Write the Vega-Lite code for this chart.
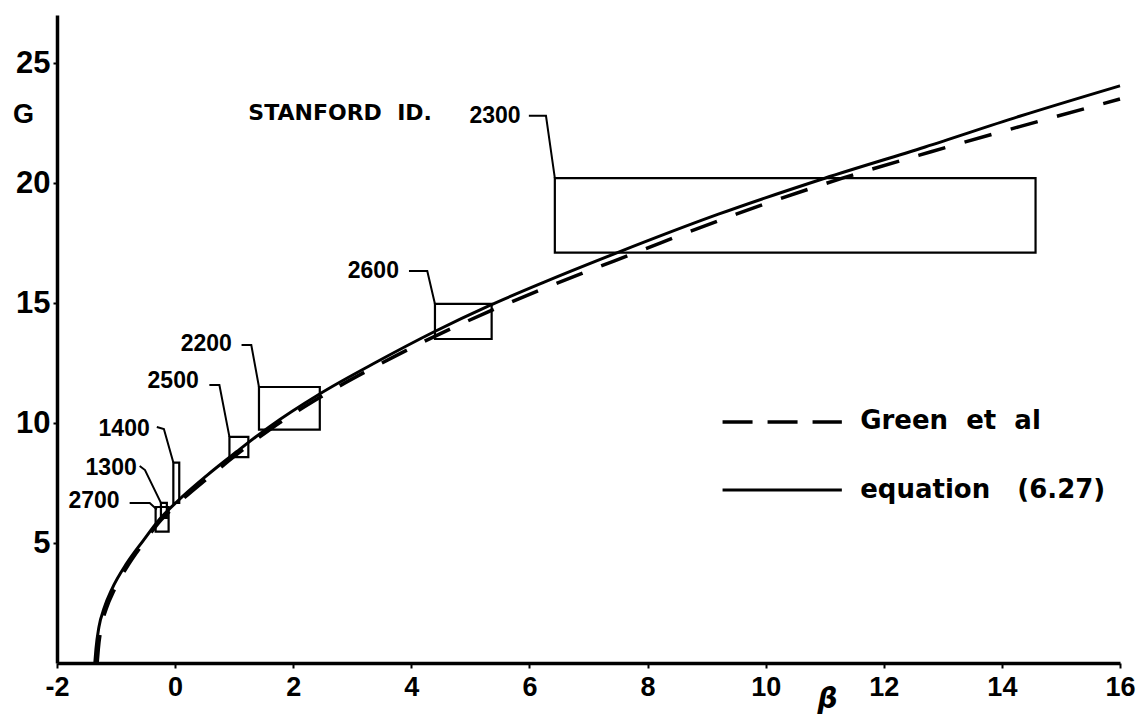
{
  "$schema": "https://vega.github.io/schema/vega-lite/v6.json",
  "width": 1063,
  "height": 648,
  "autosize": {"type": "none"},
  "padding": {"left": 57, "top": 15, "right": 17, "bottom": 57},
  "background": "white",
  "config": {"view": {"stroke": null}},
  "datasets": {
    "solid": [
      {"beta": -1.36, "G": 0}, {"beta": -1.34, "G": 0.6}, {"beta": -1.29, "G": 1.5},
      {"beta": -1.2, "G": 2.3}, {"beta": -1.07, "G": 3.08}, {"beta": -0.82, "G": 4.15},
      {"beta": -0.54, "G": 5.1}, {"beta": -0.26, "G": 6.0}, {"beta": 0.03, "G": 6.72},
      {"beta": 0.53, "G": 7.8}, {"beta": 1.04, "G": 8.8}, {"beta": 1.6, "G": 9.85},
      {"beta": 2.44, "G": 11.2}, {"beta": 3.41, "G": 12.54}, {"beta": 4.37, "G": 13.78},
      {"beta": 5.31, "G": 14.88}, {"beta": 6.24, "G": 15.86}, {"beta": 7.49, "G": 17.1},
      {"beta": 9.2, "G": 18.7}, {"beta": 11.0, "G": 20.2}, {"beta": 12.7, "G": 21.5},
      {"beta": 14.3, "G": 22.78}, {"beta": 16.0, "G": 24.05}
    ],
    "dashed": [
      {"beta": -1.32, "G": 0}, {"beta": -1.3, "G": 0.6}, {"beta": -1.25, "G": 1.5},
      {"beta": -1.16, "G": 2.3}, {"beta": -1.03, "G": 3.05}, {"beta": -0.79, "G": 4.1},
      {"beta": -0.52, "G": 5.05}, {"beta": -0.24, "G": 5.95}, {"beta": 0.05, "G": 6.65},
      {"beta": 0.55, "G": 7.7}, {"beta": 1.05, "G": 8.7}, {"beta": 1.6, "G": 9.72},
      {"beta": 2.44, "G": 11.05}, {"beta": 3.41, "G": 12.38}, {"beta": 4.37, "G": 13.58},
      {"beta": 5.31, "G": 14.64}, {"beta": 6.24, "G": 15.6}, {"beta": 7.8, "G": 17.1},
      {"beta": 9.5, "G": 18.7}, {"beta": 11.3, "G": 20.2}, {"beta": 12.8, "G": 21.3},
      {"beta": 14.3, "G": 22.35}, {"beta": 16.0, "G": 23.5}
    ],
    "boxes": [
      {"id": "2300", "beta": 6.43, "beta2": 14.57, "G": 17.1, "G2": 20.2},
      {"id": "2600", "beta": 4.40, "beta2": 5.36, "G": 13.5, "G2": 14.96},
      {"id": "2200", "beta": 1.42, "beta2": 2.45, "G": 9.72, "G2": 11.5},
      {"id": "2500", "beta": 0.92, "beta2": 1.24, "G": 8.58, "G2": 9.42},
      {"id": "1400", "beta": -0.03, "beta2": 0.07, "G": 6.67, "G2": 8.35},
      {"id": "1300", "beta": -0.24, "beta2": -0.14, "G": 6.05, "G2": 6.67},
      {"id": "2700", "beta": -0.33, "beta2": -0.11, "G": 5.47, "G2": 6.5}
    ],
    "leaders": [
      {"id": "2300", "o": 1, "beta": 5.99, "G": 22.8}, {"id": "2300", "o": 2, "beta": 6.28, "G": 22.8}, {"id": "2300", "o": 3, "beta": 6.43, "G": 20.2},
      {"id": "2600", "o": 1, "beta": 3.96, "G": 16.33}, {"id": "2600", "o": 2, "beta": 4.27, "G": 16.33}, {"id": "2600", "o": 3, "beta": 4.40, "G": 14.96},
      {"id": "2200", "o": 1, "beta": 1.125, "G": 13.25}, {"id": "2200", "o": 2, "beta": 1.29, "G": 13.25}, {"id": "2200", "o": 3, "beta": 1.42, "G": 11.5},
      {"id": "2500", "o": 1, "beta": 0.58, "G": 11.58}, {"id": "2500", "o": 2, "beta": 0.75, "G": 11.58}, {"id": "2500", "o": 3, "beta": 0.92, "G": 9.42},
      {"id": "1400", "o": 1, "beta": -0.31, "G": 9.83}, {"id": "1400", "o": 2, "beta": -0.19, "G": 9.75}, {"id": "1400", "o": 3, "beta": -0.03, "G": 8.35},
      {"id": "1300", "o": 1, "beta": -0.60, "G": 8.21}, {"id": "1300", "o": 2, "beta": -0.51, "G": 8.04}, {"id": "1300", "o": 3, "beta": -0.24, "G": 6.67},
      {"id": "2700", "o": 1, "beta": -0.77, "G": 6.67}, {"id": "2700", "o": 2, "beta": -0.43, "G": 6.67}, {"id": "2700", "o": 3, "beta": -0.31, "G": 6.4}
    ],
    "labels": [
      {"label": "2300", "beta": 5.85, "G": 22.8},
      {"label": "2600", "beta": 3.79, "G": 16.33},
      {"label": "2200", "beta": 0.96, "G": 13.3},
      {"label": "2500", "beta": 0.40, "G": 11.73},
      {"label": "1400", "beta": -0.43, "G": 9.77},
      {"label": "1300", "beta": -0.65, "G": 8.13},
      {"label": "2700", "beta": -0.94, "G": 6.75}
    ],
    "stanford": [{"label": "STANFORD\u00a0\u00a0ID.", "beta": 1.24, "G": 22.9}],
    "legendlines": [
      {"kind": "dashed", "beta": 9.27, "beta2": 11.29, "G": 10.04},
      {"kind": "solid", "beta": 9.27, "beta2": 11.29, "G": 7.21}
    ],
    "legendtext": [
      {"label": "Green\u00a0\u00a0et\u00a0\u00a0al", "beta": 11.6, "G": 10.1},
      {"label": "equation\u00a0\u00a0\u00a0(6.27)", "beta": 11.6, "G": 7.21}
    ]
  },
  "encoding": {
    "x": {
      "field": "beta", "type": "quantitative",
      "scale": {"domain": [-2, 16], "nice": false, "zero": false},
      "axis": {
        "values": [-2, 0, 2, 4, 6, 8, 10, 12, 14, 16],
        "labelExpr": "datum.value < 0 ? '-' + abs(datum.value) : '' + datum.value",
        "grid": false, "domainColor": "black", "domainWidth": 3.5,
        "tickColor": "black", "tickWidth": 2, "tickSize": 5,
        "labelFont": "Liberation Sans", "labelFontWeight": "bold", "labelFontSize": 27,
        "labelColor": "black", "labelPadding": 6, "labelFlush": false, "labelOverlap": false,
        "title": "β", "titleFont": "DejaVu Sans", "titleFontStyle": "italic", "titleFontWeight": "bold",
        "titleFontSize": 28, "titleColor": "black", "titleX": 770, "titleY": 36,
        "titleAlign": "center", "titleBaseline": "middle"
      }
    },
    "y": {
      "field": "G", "type": "quantitative",
      "scale": {"domain": [0, 27], "nice": false, "zero": false},
      "axis": {
        "values": [5, 10, 15, 20, 25],
        "grid": false, "domainColor": "black", "domainWidth": 3.5,
        "tickColor": "black", "tickWidth": 2, "tickSize": 4,
        "labelFont": "Liberation Sans", "labelFontWeight": "bold", "labelFontSize": 31,
        "labelColor": "black", "labelPadding": 3, "labelFlush": false, "labelOverlap": false,
        "title": "G", "titleAngle": 0, "titleFont": "Liberation Sans", "titleFontWeight": "bold",
        "titleFontSize": 27, "titleColor": "black", "titleX": -34, "titleY": 99,
        "titleAlign": "center", "titleBaseline": "middle"
      }
    }
  },
  "layer": [
    {
      "data": {"name": "boxes"},
      "mark": {"type": "rect", "fill": null, "stroke": "black", "strokeWidth": 2.2},
      "encoding": {"x2": {"field": "beta2"}, "y2": {"field": "G2"}}
    },
    {
      "data": {"name": "leaders"},
      "mark": {"type": "line", "stroke": "black", "strokeWidth": 2, "interpolate": "linear"},
      "encoding": {"detail": {"field": "id"}, "order": {"field": "o"}}
    },
    {
      "data": {"name": "dashed"},
      "mark": {"type": "line", "stroke": "black", "strokeWidth": 3.5, "strokeDash": [28, 20], "interpolate": "monotone", "strokeCap": "butt"},
      "encoding": {}
    },
    {
      "data": {"name": "solid"},
      "mark": {"type": "line", "stroke": "black", "strokeWidth": 3, "interpolate": "monotone"},
      "encoding": {}
    },
    {
      "data": {"name": "labels"},
      "mark": {"type": "text", "align": "right", "baseline": "middle", "font": "Liberation Sans", "fontWeight": "bold", "fontSize": 23, "color": "black"},
      "encoding": {"text": {"field": "label"}}
    },
    {
      "data": {"name": "stanford"},
      "mark": {"type": "text", "align": "left", "baseline": "middle", "font": "DejaVu Sans", "fontWeight": "bold", "fontSize": 22, "color": "black"},
      "encoding": {"text": {"field": "label"}}
    },
    {
      "data": {"name": "legendlines"},
      "transform": [{"filter": "datum.kind == 'dashed'"}],
      "mark": {"type": "rule", "stroke": "black", "strokeWidth": 3.5, "strokeDash": [30, 15]},
      "encoding": {"x2": {"field": "beta2"}}
    },
    {
      "data": {"name": "legendlines"},
      "transform": [{"filter": "datum.kind == 'solid'"}],
      "mark": {"type": "rule", "stroke": "black", "strokeWidth": 3},
      "encoding": {"x2": {"field": "beta2"}}
    },
    {
      "data": {"name": "legendtext"},
      "mark": {"type": "text", "align": "left", "baseline": "middle", "font": "DejaVu Sans", "fontWeight": "bold", "fontSize": 26, "color": "black"},
      "encoding": {"text": {"field": "label"}}
    }
  ]
}
